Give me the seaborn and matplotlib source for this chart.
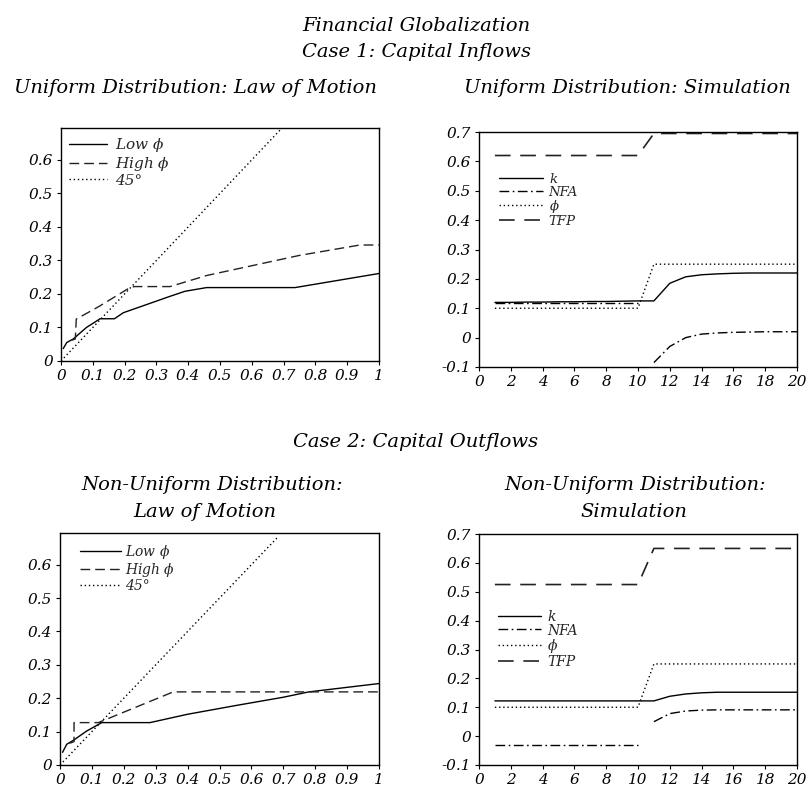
import matplotlib
matplotlib.use("Agg")
import matplotlib.pyplot as plt
import seaborn as sns
import numpy as np

# ---------------- data ----------------
# Panel 1: Uniform distribution, law of motion
low1_x = [0.007, 0.018, 0.039, 0.08, 0.123, 0.168, 0.196, 0.343, 0.39, 0.458, 0.736, 1.0]
low1_y = [0.037, 0.055, 0.066, 0.10, 0.126, 0.126, 0.144, 0.193, 0.208, 0.219, 0.219, 0.261]
high1_x = [0.035, 0.045, 0.048, 0.12, 0.21, 0.23, 0.343, 0.458, 0.75, 0.94, 1.0]
high1_y = [0.062, 0.066, 0.125, 0.163, 0.215, 0.222, 0.222, 0.255, 0.315, 0.346, 0.346]
deg45_1_x = [0.0, 1.0]
deg45_1_y = [0.0, 1.0]

# Panel 3: Non-uniform distribution, law of motion
low3_x = [0.008, 0.021, 0.042, 0.084, 0.131, 0.282, 0.4, 0.55, 0.7, 0.78, 1.0]
low3_y = [0.038, 0.062, 0.074, 0.102, 0.127, 0.127, 0.152, 0.178, 0.203, 0.219, 0.244]
high3_x = [0.03, 0.044, 0.044, 0.12, 0.355, 1.0]
high3_y = [0.065, 0.07, 0.127, 0.127, 0.219, 0.219]
deg45_3_x = [0.0, 0.68]
deg45_3_y = [0.0, 0.68]

# Panels 2 and 4: simulations over periods 1..20
periods = list(range(1, 21))
periods_pre = list(range(1, 11))
periods_post = list(range(11, 21))

k2 = [0.12, 0.12, 0.121, 0.121, 0.122, 0.122, 0.123, 0.123, 0.124, 0.125,
      0.125, 0.185, 0.207, 0.214, 0.217, 0.219, 0.22, 0.22, 0.22, 0.22]
nfa2_pre = [0.118] * 10
nfa2_post = [-0.085, -0.03, 0.0, 0.012, 0.016, 0.018, 0.019, 0.02, 0.02, 0.02]
phi2 = [0.1] * 10 + [0.25] * 10
tfp2 = [0.62] * 10 + [0.695] * 10

k4 = [0.122] * 11 + [0.138, 0.146, 0.15, 0.152, 0.152, 0.152, 0.152, 0.152, 0.152]
nfa4_pre = [-0.031] * 10
nfa4_post = [0.05, 0.078, 0.087, 0.09, 0.091, 0.091, 0.091, 0.091, 0.091, 0.091]
phi4 = [0.1] * 10 + [0.25] * 10
tfp4 = [0.525] * 10 + [0.65] * 10

lom_xticks = [0, 0.1, 0.2, 0.3, 0.4, 0.5, 0.6, 0.7, 0.8, 0.9, 1.0]
lom_xticklabels = ["0", "0.1", "0.2", "0.3", "0.4", "0.5", "0.6", "0.7", "0.8", "0.9", "1"]
lom_yticks = [0, 0.1, 0.2, 0.3, 0.4, 0.5, 0.6]
lom_yticklabels = ["0", "0.1", "0.2", "0.3", "0.4", "0.5", "0.6"]
sim_xticks = [0, 2, 4, 6, 8, 10, 12, 14, 16, 18, 20]
sim_xticklabels = [str(v) for v in sim_xticks]
sim_yticks = [-0.1, 0, 0.1, 0.2, 0.3, 0.4, 0.5, 0.6, 0.7]
sim_yticklabels = ["-0.1", "0", "0.1", "0.2", "0.3", "0.4", "0.5", "0.6", "0.7"]

# ---------------- style ----------------
sns.set_theme(style="ticks")
plt.rcParams["font.family"] = ["DejaVu Serif"]
plt.rcParams["font.style"] = "italic"
plt.rcParams["mathtext.fontset"] = "dejavuserif"
plt.rcParams["axes.linewidth"] = 1.0
plt.rcParams["axes.edgecolor"] = "black"

W, H = 810, 791
fig = plt.figure(figsize=(W / 100, H / 100), dpi=100)


def box(l, t, r, b):
    return [l / W, 1 - b / H, (r - l) / W, (b - t) / H]


ax1 = fig.add_axes(box(61, 128, 379, 361))
ax2 = fig.add_axes(box(479, 132, 797, 367))
ax3 = fig.add_axes(box(60, 533, 379, 765))
ax4 = fig.add_axes(box(479, 534, 797, 765))

SOLID = "-"
DASH_L = (0, (7, 3.6))
DASH_S = (0, (9.4, 5.8))
DOT = (0, (1, 2.0))
DASHDOT = (0, (7, 2.5, 1.2, 2.5))
LW = 1.0
TICKFS = 11


def lp(ax, x, y, ls, label=None, color="black", lw=LW):
    sns.lineplot(x=x, y=y, ax=ax, color=color, linestyle=ls, linewidth=lw,
                 label=label, estimator=None, sort=False)


# Panel 1
lp(ax1, low1_x, low1_y, SOLID, r"Low $\mathrm{\phi}$")
lp(ax1, high1_x, high1_y, DASH_L, r"High $\mathrm{\phi}$", "#222222")
lp(ax1, deg45_1_x, deg45_1_y, DOT, "45°")

# Panel 3
lp(ax3, low3_x, low3_y, SOLID, r"Low $\mathrm{\phi}$")
lp(ax3, high3_x, high3_y, DASH_L, r"High $\mathrm{\phi}$", "#222222")
lp(ax3, deg45_3_x, deg45_3_y, DOT, "45°")

# Panel 2
lp(ax2, periods, k2, SOLID, r"$k$")
lp(ax2, periods_pre, nfa2_pre, DASHDOT, "NFA")
lp(ax2, periods_post, nfa2_post, DASHDOT)
lp(ax2, periods, phi2, DOT, r"$\mathrm{\phi}$")
lp(ax2, periods, tfp2, DASH_S, "TFP", "#222222", 1.2)

# Panel 4
lp(ax4, periods, k4, SOLID, r"$k$")
lp(ax4, periods_pre, nfa4_pre, DASHDOT, "NFA")
lp(ax4, periods_post, nfa4_post, DASHDOT)
lp(ax4, periods, phi4, DOT, r"$\mathrm{\phi}$")
lp(ax4, periods, tfp4, DASH_S, "TFP", "#222222", 1.2)

for ax in (ax1, ax3):
    ax.set_xlim(0, 1)
    ax.set_ylim(0, 0.695)
    ax.set_xticks(lom_xticks)
    ax.set_xticklabels(lom_xticklabels)
    ax.set_yticks(lom_yticks)
    ax.set_yticklabels(lom_yticklabels)

for ax in (ax2, ax4):
    ax.set_xlim(0, 20)
    ax.set_ylim(-0.1, 0.7)
    ax.set_xticks(sim_xticks)
    ax.set_xticklabels(sim_xticklabels)
    ax.set_yticks(sim_yticks)
    ax.set_yticklabels(sim_yticklabels)

for ax in (ax1, ax2, ax3, ax4):
    ax.set_xlabel("")
    ax.set_ylabel("")
    ax.tick_params(direction="out", length=3, width=0.8, pad=2.5,
                   labelsize=TICKFS, colors="black")
    for lab in ax.get_xticklabels() + ax.get_yticklabels():
        lab.set_fontstyle("italic")
    for s in ax.spines.values():
        s.set_visible(True)
        s.set_linewidth(1.0)
        s.set_color("black")

leg_common = dict(frameon=False, loc="upper left", borderaxespad=0,
                  borderpad=0, prop={"style": "italic"})
ax1.legend(bbox_to_anchor=(0.025, 0.965), fontsize=11, handlelength=2.5,
           handletextpad=0.5, labelspacing=0.05, **leg_common)
ax3.legend(bbox_to_anchor=(0.063, 0.955), fontsize=10, handlelength=2.7,
           handletextpad=0.25, labelspacing=0.0, **leg_common)
ax2.legend(bbox_to_anchor=(0.063, 0.83), fontsize=9.5, handlelength=2.9,
           handletextpad=0.35, labelspacing=-0.05, **leg_common)
ax4.legend(bbox_to_anchor=(0.06, 0.675), fontsize=10, handlelength=2.8,
           handletextpad=0.4, labelspacing=-0.02, **leg_common)
for ax, fs in ((ax1, 11), (ax3, 10), (ax2, 9.5), (ax4, 10)):
    for t in ax.get_legend().get_texts():
        t.set_fontsize(fs)
        t.set_fontstyle("italic")

TFS = 14


def ftxt(x, y, s):
    fig.text(x / W, 1 - y / H, s, ha="center", va="baseline",
             fontsize=TFS, fontstyle="italic", color="black")


ftxt(416, 31, "Financial Globalization")
ftxt(416, 57, "Case 1: Capital Inflows")
ftxt(195, 93, "Uniform Distribution: Law of Motion")
ftxt(627, 93, "Uniform Distribution: Simulation")
ftxt(416, 447, "Case 2: Capital Outflows")
ftxt(212, 490, "Non-Uniform Distribution:")
ftxt(205, 517, "Law of Motion")
ftxt(635, 490, "Non-Uniform Distribution:")
ftxt(634, 517, "Simulation")

fig.savefig("out.png", dpi=100)
